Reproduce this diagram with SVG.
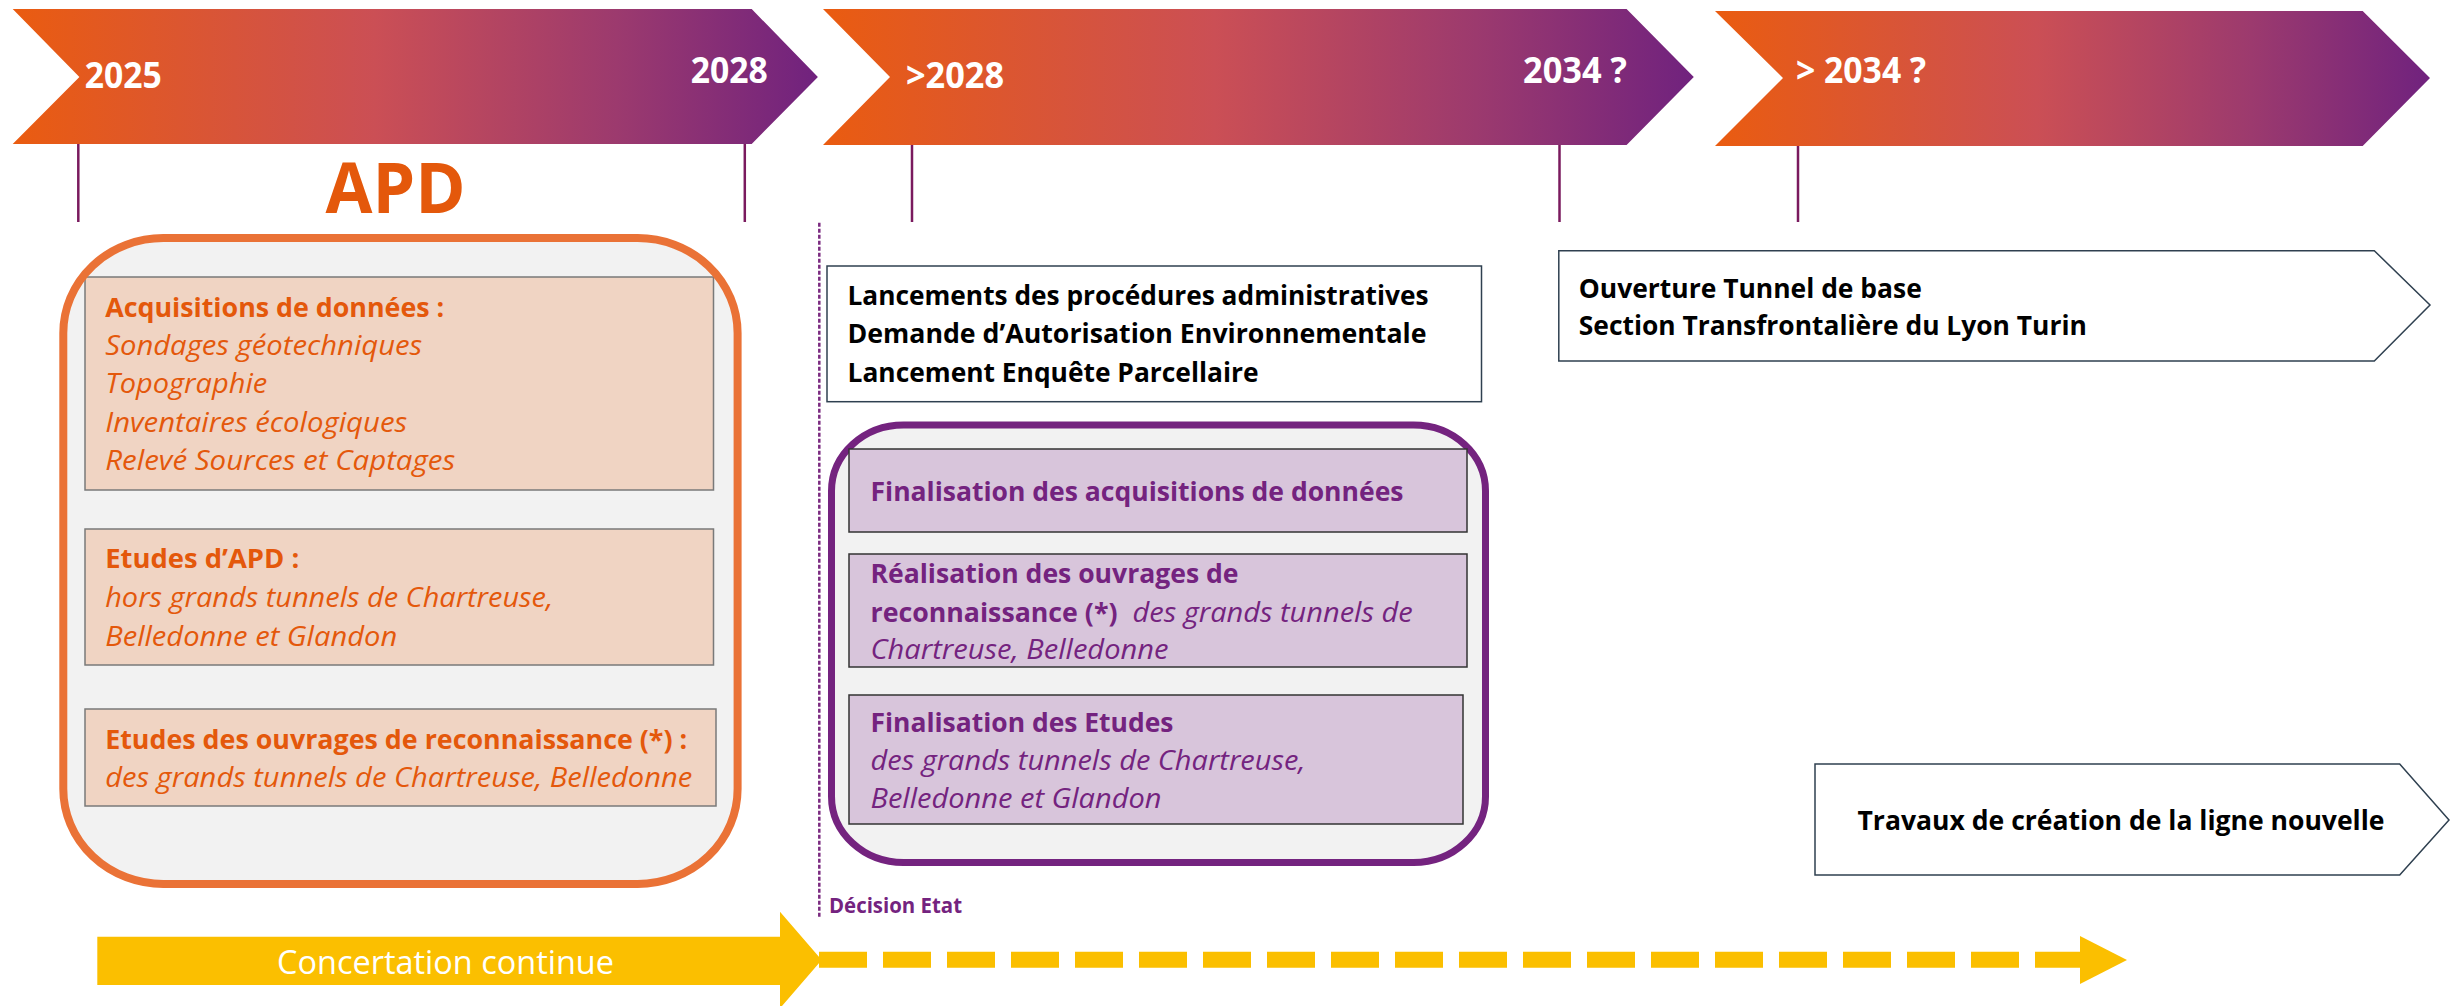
<svg xmlns="http://www.w3.org/2000/svg" width="2450" height="1006" viewBox="0 0 2450 1006">
  <defs>
    <linearGradient id="chev" x1="0" y1="0" x2="1" y2="0">
      <stop offset="0" stop-color="#EA5C10"/>
      <stop offset="0.45" stop-color="#CB4F55"/>
      <stop offset="0.75" stop-color="#9C3A6E"/>
      <stop offset="1" stop-color="#70227E"/>
    </linearGradient>
    <style>
      text { font-family: "Open Sans", "Liberation Sans", sans-serif; }
      .yr { fill: #FFFFFF; font-weight: bold; font-size: 36px; }
      .tick { stroke: #7A1A5E; stroke-width: 2.5; }
      .ob { fill: #E4580B; font-weight: bold; font-size: 27px; }
      .oi { fill: #E4580B; font-style: italic; font-size: 27px; }
      .pb { fill: #74237F; font-weight: bold; font-size: 27px; }
      .pi { fill: #74237F; font-style: italic; font-size: 27px; }
      .kb { fill: #000000; font-weight: bold; font-size: 26px; }
      .obox { fill: #F0D4C3; stroke: #7A7A7A; stroke-width: 1.5; }
      .pbox { fill: #D8C5DB; stroke: #333333; stroke-width: 1.5; }
      .wbox { fill: #FFFFFF; stroke: #2F4050; stroke-width: 1.5; }
    </style>
  </defs>

  <g id="timeline">
    <g id="phase-2025-2028">
      <polygon points="12.7,9 751.7,9 817.9,77 751.7,144 12.7,144 79.4,77" fill="url(#chev)"/>
      <text class="yr" x="84.7" y="88" textLength="77" lengthAdjust="spacingAndGlyphs">2025</text>
      <text class="yr" x="690.8" y="83" textLength="77" lengthAdjust="spacingAndGlyphs">2028</text>
    </g>
    <g id="phase-2028-2034">
      <polygon points="823,9 1626.6,9 1693.8,77 1626.6,145 823,145 890,77" fill="url(#chev)"/>
      <text class="yr" x="906" y="88" textLength="98" lengthAdjust="spacingAndGlyphs">&gt;2028</text>
      <text class="yr" x="1523" y="83" textLength="104" lengthAdjust="spacingAndGlyphs">2034 ?</text>
    </g>
    <g id="phase-after-2034">
      <polygon points="1715,11 2362.7,11 2430,78 2362.7,146 1715,146 1783,78" fill="url(#chev)"/>
      <text class="yr" x="1796" y="83" textLength="130" lengthAdjust="spacingAndGlyphs">&gt; 2034 ?</text>
    </g>
    <g id="ticks">
      <line class="tick" x1="78.3" y1="144" x2="78.3" y2="222"/>
      <line class="tick" x1="744.8" y1="144" x2="744.8" y2="222"/>
      <line class="tick" x1="912" y1="145" x2="912" y2="222"/>
      <line class="tick" x1="1559.5" y1="145" x2="1559.5" y2="222"/>
      <line class="tick" x1="1798" y1="146" x2="1798" y2="222"/>
    </g>
  </g>

  <g id="apd-title">
    <text x="325.6" y="213" fill="#E4580B" font-weight="bold" font-size="70" textLength="140" lengthAdjust="spacingAndGlyphs">APD</text>
  </g>

  <g id="apd-group">
    <rect x="63.3" y="238" width="674.3" height="646" rx="100" ry="95" fill="#F2F2F2"/>
    <g id="apd-acquisitions">
      <rect class="obox" x="85" y="277" width="628.5" height="213"/>
      <text class="ob" x="105.2" y="317" textLength="339" lengthAdjust="spacingAndGlyphs">Acquisitions de données :</text>
      <text class="oi" x="105.2" y="355" textLength="317" lengthAdjust="spacingAndGlyphs">Sondages géotechniques</text>
      <text class="oi" x="105.2" y="393" textLength="162" lengthAdjust="spacingAndGlyphs">Topographie</text>
      <text class="oi" x="105.2" y="432" textLength="302" lengthAdjust="spacingAndGlyphs">Inventaires écologiques</text>
      <text class="oi" x="105.2" y="470" textLength="350" lengthAdjust="spacingAndGlyphs">Relevé Sources et Captages</text>
    </g>
    <g id="apd-etudes">
      <rect class="obox" x="85" y="529" width="628.5" height="136"/>
      <text class="ob" x="105.2" y="568" textLength="194" lengthAdjust="spacingAndGlyphs">Etudes d’APD :</text>
      <text class="oi" x="105.2" y="607" textLength="448" lengthAdjust="spacingAndGlyphs">hors grands tunnels de Chartreuse,</text>
      <text class="oi" x="105.2" y="646" textLength="292" lengthAdjust="spacingAndGlyphs">Belledonne et Glandon</text>
    </g>
    <g id="apd-ouvrages">
      <rect class="obox" x="85" y="709" width="631" height="97"/>
      <text class="ob" x="105.2" y="749" textLength="582" lengthAdjust="spacingAndGlyphs">Etudes des ouvrages de reconnaissance (*) :</text>
      <text class="oi" x="105.2" y="787" textLength="587" lengthAdjust="spacingAndGlyphs">des grands tunnels de Chartreuse, Belledonne</text>
    </g>
    <rect x="63.3" y="238" width="674.3" height="646" rx="100" ry="95" fill="none" stroke="#EA7236" stroke-width="8"/>
  </g>

  <g id="procedures">
    <rect class="wbox" x="827" y="266" width="654.5" height="135.7" stroke="#404040"/>
    <text class="kb" x="847.5" y="305" textLength="581" lengthAdjust="spacingAndGlyphs">Lancements des procédures administratives</text>
    <text class="kb" x="847.5" y="343" textLength="579" lengthAdjust="spacingAndGlyphs">Demande d’Autorisation Environnementale</text>
    <text class="kb" x="847.5" y="382" textLength="411" lengthAdjust="spacingAndGlyphs">Lancement Enquête Parcellaire</text>
  </g>

  <g id="phase2-group">
    <rect x="831.5" y="425" width="654" height="437.5" rx="72" ry="66" fill="#F2F2F2" stroke="#74237F" stroke-width="7"/>
    <g id="finalisation-acquisitions">
      <rect class="pbox" x="849" y="449" width="618" height="83"/>
      <text class="pb" x="870.5" y="501" textLength="533" lengthAdjust="spacingAndGlyphs">Finalisation des acquisitions de données</text>
    </g>
    <g id="realisation-ouvrages">
      <rect class="pbox" x="849" y="554" width="618" height="113"/>
      <text class="pb" x="870.5" y="583" textLength="368" lengthAdjust="spacingAndGlyphs">Réalisation des ouvrages de</text>
      <text class="pb" x="870.5" y="622" textLength="247" lengthAdjust="spacingAndGlyphs">reconnaissance (*)</text>
      <text class="pi" x="1132.6" y="622" textLength="280" lengthAdjust="spacingAndGlyphs">des grands tunnels de</text>
      <text class="pi" x="870.5" y="659" textLength="298" lengthAdjust="spacingAndGlyphs">Chartreuse, Belledonne</text>
    </g>
    <g id="finalisation-etudes">
      <rect class="pbox" x="849" y="695" width="614" height="129"/>
      <text class="pb" x="870.5" y="732" textLength="303" lengthAdjust="spacingAndGlyphs">Finalisation des Etudes</text>
      <text class="pi" x="870.5" y="770" textLength="435" lengthAdjust="spacingAndGlyphs">des grands tunnels de Chartreuse,</text>
      <text class="pi" x="870.5" y="808" textLength="291" lengthAdjust="spacingAndGlyphs">Belledonne et Glandon</text>
    </g>
  </g>

  <g id="ouverture-tunnel">
    <polygon class="wbox" points="1558.8,250.7 2374.3,250.7 2430,305 2374.3,361 1558.8,361"/>
    <text class="kb" x="1578.8" y="297.7" textLength="343" lengthAdjust="spacingAndGlyphs">Ouverture Tunnel de base</text>
    <text class="kb" x="1578.8" y="335" textLength="508" lengthAdjust="spacingAndGlyphs">Section Transfrontalière du Lyon Turin</text>
  </g>

  <g id="travaux">
    <polygon class="wbox" points="1815,764 2399.7,764 2449,820 2399.7,875 1815,875"/>
    <text class="kb" x="1857.5" y="830" textLength="527" lengthAdjust="spacingAndGlyphs">Travaux de création de la ligne nouvelle</text>
  </g>

  <g id="decision-etat">
    <text x="829" y="912.7" fill="#74237F" font-weight="bold" font-size="22" textLength="133" lengthAdjust="spacingAndGlyphs">Décision Etat</text>
  </g>

  <g id="connectors">
    <line x1="819.3" y1="222.7" x2="819.3" y2="918" stroke="#7B2A80" stroke-width="2.5" stroke-dasharray="4 2"/>
    <g id="concertation">
      <polygon points="97.3,936.7 780,936.7 780,911.7 821.7,960 780,1008.3 780,985 97.3,985" fill="#FBBF00"/>
      <text x="277" y="974" fill="#FFFFFF" font-size="33" textLength="337" lengthAdjust="spacingAndGlyphs">Concertation continue</text>
      <line x1="819" y1="959.7" x2="2080" y2="959.7" stroke="#FBBF00" stroke-width="16" stroke-dasharray="48 16"/>
      <polygon points="2080,936 2127,960 2080,984" fill="#FBBF00"/>
    </g>
  </g>
</svg>
